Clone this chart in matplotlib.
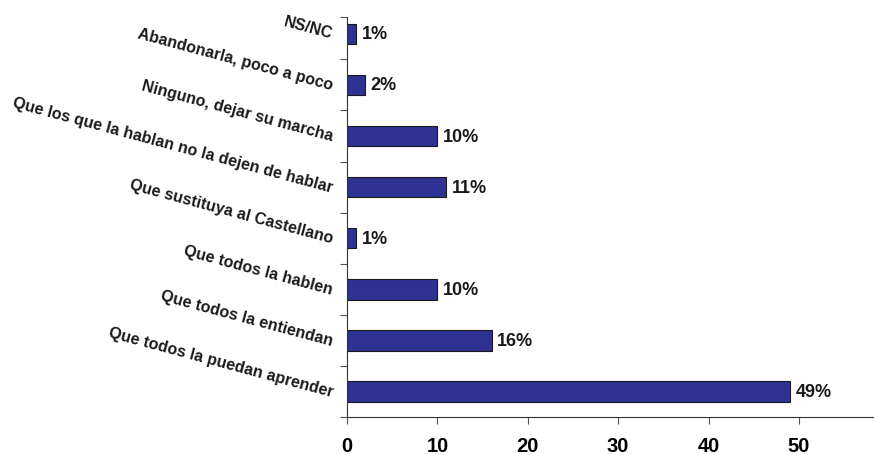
import matplotlib.pyplot as plt

plt.rcParams['font.family'] = ['Liberation Sans', 'DejaVu Sans']

# Survey answers, bottom to top
categories = ['Que todos la puedan aprender', 'Que todos la entiendan',
              'Que todos la hablen', 'Que sustituya al Castellano',
              'Que los que la hablan no la dejen de hablar',
              'Ninguno, dejar su marcha', 'Abandonarla, poco a poco', 'NS/NC']
values = [49, 16, 10, 1, 11, 10, 2, 1]
xticks = [0, 10, 20, 30, 40, 50]

fig = plt.figure(figsize=(8.74, 4.56), dpi=100)
ax = fig.add_axes([0.397, 0.0833, 0.603, 0.8772])

ypos = list(range(len(categories)))
ax.barh(ypos, values, height=0.4, color='#2E3192', edgecolor='#1a1a1a', linewidth=0.8)

for y, v in zip(ypos, values):
    ax.annotate(f'{v}%', (v, y), xytext=(4, 0), textcoords='offset points',
                va='center', ha='left', fontsize=13, fontweight='bold', color='#1a1a1a')

ax.set_xlim(0, 58.3)
ax.set_ylim(-0.5, len(categories) - 1 + 0.33)
ax.set_xticks(xticks)
ax.set_xticklabels([str(t) for t in xticks], fontsize=14.5, fontweight='bold')
ax.tick_params(axis='x', length=5, pad=9, color='#555555')

# category ticks sit on the boundaries, labels go at bar centres
ax.set_yticks([i - 0.5 for i in ypos] + [len(categories) - 1 + 0.33])
ax.set_yticklabels([])
ax.tick_params(axis='y', length=5, color='#555555')
for y, name in zip(ypos, categories):
    ax.text(-1.6, y, name, rotation=-15, rotation_mode='anchor', ha='right', va='center',
            fontsize=11.5, fontweight='bold', color='#1a1a1a')

for side in ['top', 'right']:
    ax.spines[side].set_visible(False)
for side in ['left', 'bottom']:
    ax.spines[side].set_color('#333333')

fig.savefig('out.png', dpi=100)
